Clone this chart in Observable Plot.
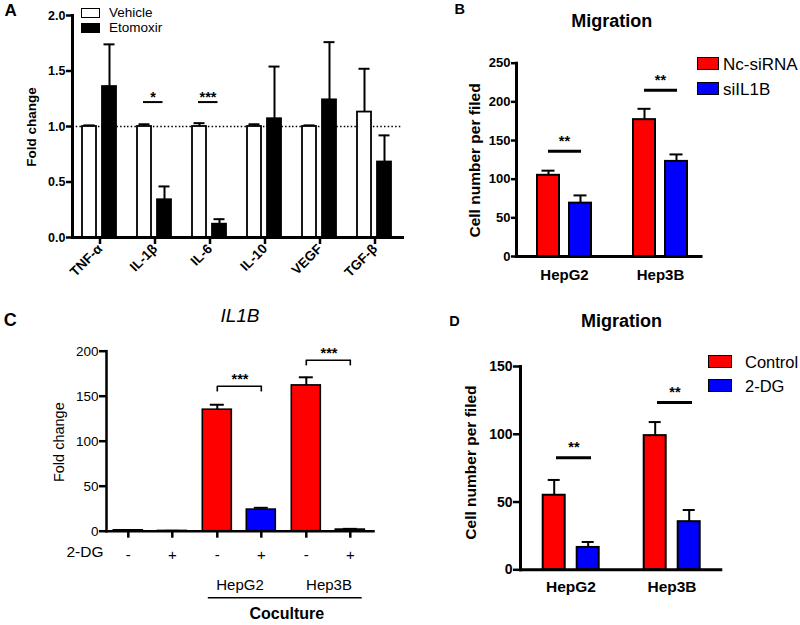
<!DOCTYPE html>
<html>
<head>
<meta charset="utf-8">
<script src="https://cdn.jsdelivr.net/npm/d3@7"></script>
<script src="https://cdn.jsdelivr.net/npm/@observablehq/plot@0.6"></script>
<style>
  body { margin: 0; background: #fff; }
  #fig { position: relative; width: 800px; height: 625px; overflow: hidden;
         font-family: "Liberation Sans", Arial, Helvetica, sans-serif; color: #000; background: #fff; }
  #fig svg { position: absolute; overflow: visible; }
</style>
</head>
<body>
<div id="fig"></div>
<script>
const FONT = '"Liberation Sans", Arial, Helvetica, sans-serif';

// ---------- Panel A: cytokine fold change ----------
const cytokines = ["TNF-α", "IL-1β", "IL-6", "IL-10", "VEGF", "TGF-β"];
const treatmentsA = ["Vehicle", "Etomoxir"];
const vehicleMean = [1.00, 1.00, 1.00, 1.00, 1.00, 1.13];
const vehicleSem  = [0.01, 0.02, 0.03, 0.02, 0.01, 0.39];
const etomoxirMean = [1.36, 0.34, 0.12, 1.07, 1.24, 0.68];
const etomoxirSem  = [0.38, 0.12, 0.045, 0.47, 0.52, 0.24];
const sigA = [{cat: "IL-1β", y: 1.22, label: "*"}, {cat: "IL-6", y: 1.22, label: "***"}];
const ticksA = [0, 0.5, 1, 1.5, 2];

// ---------- Panel B: migration, siRNA ----------
const cellLines = ["HepG2", "Hep3B"];
const groupsB = ["Nc-siRNA", "siIL1B"];
const ncMean = [105, 177];
const ncSem = [6, 14];
const siMean = [69, 123];
const siSem = [10, 9];
const sigB = [{cell: "HepG2", y: 136, label: "**"}, {cell: "Hep3B", y: 215, label: "**"}];
const ticksB = [0, 50, 100, 150, 200, 250];

// ---------- Panel C: IL1B fold change ----------
const cGroups = ["None", "HepG2", "Hep3B"];
const dgLevels = ["-", "+"];
const minusMean = [1.0, 135, 162];
const minusSem = [0.2, 5.5, 9];
const plusMean = [0.3, 24, 1.8];
const plusSem = [0.1, 2, 0.8];
const sigC = [{grp: "HepG2", y: 161, label: "***"}, {grp: "Hep3B", y: 190, label: "***"}];
const ticksC = [0, 50, 100, 150, 200];

// ---------- Panel D: migration, 2-DG ----------
const groupsD = ["Control", "2-DG"];
const ctrlMean = [55, 99];
const ctrlSem = [11.3, 10];
const dgMean = [16.5, 35.5];
const dgSem = [4, 8.6];
const sigD = [{cell: "HepG2", y: 82.6, label: "**"}, {cell: "Hep3B", y: 123.4, label: "**"}];
const ticksD = [0, 50, 100, 150];

const RED = "#ff0000", BLUE = "#0000ff";

const dataA = cytokines.flatMap((c, i) => [
  {cat: c, grp: treatmentsA[0], mean: vehicleMean[i], sem: vehicleSem[i]},
  {cat: c, grp: treatmentsA[1], mean: etomoxirMean[i], sem: etomoxirSem[i]}
]);
const dataB = cellLines.flatMap((c, i) => [
  {cell: c, grp: groupsB[0], mean: ncMean[i], sem: ncSem[i]},
  {cell: c, grp: groupsB[1], mean: siMean[i], sem: siSem[i]}
]);
const dataC = cGroups.flatMap((g, i) => [
  {grp: g, dg: dgLevels[0], mean: minusMean[i], sem: minusSem[i]},
  {grp: g, dg: dgLevels[1], mean: plusMean[i], sem: plusSem[i]}
]);
const legsC = sigC.flatMap(d => dgLevels.map(k => ({...d, dg: k})));
const dataD = cellLines.flatMap((c, i) => [
  {cell: c, grp: groupsD[0], mean: ctrlMean[i], sem: ctrlSem[i]},
  {cell: c, grp: groupsD[1], mean: dgMean[i], sem: dgSem[i]}
]);

const errTop = d => d.mean + d.sem;
const baseStyle = {fontFamily: FONT, color: "#000", background: "#fff", overflow: "visible"};

// ---------- A ----------
const plotA = Plot.plot({
  width: 420, height: 290,
  marginLeft: 70, marginRight: 17, marginTop: 15, marginBottom: 53,
  style: baseStyle,
  fx: {domain: cytokines, paddingInner: 0, paddingOuter: 0},
  x: {domain: treatmentsA, paddingInner: 0.286, paddingOuter: 0.464, axis: null},
  y: {domain: [0, 2]},
  color: {domain: treatmentsA, range: ["#ffffff", "#000000"]},
  marks: [
    Plot.ruleY([1], {strokeDasharray: "1.5,2.2", strokeWidth: 1.4}),
    Plot.ruleX(dataA, {fx: "cat", x: "grp", y1: "mean", y2: errTop, strokeWidth: 2}),
    Plot.tickY(dataA, {fx: "cat", x: "grp", y: errTop, strokeWidth: 2, inset: 1.5}),
    Plot.barY(dataA, {fx: "cat", x: "grp", y: "mean", fill: "grp", stroke: "#000", strokeWidth: 1.8}),
    Plot.ruleY(sigA, {fx: "cat", y: "y", insetLeft: 16, insetRight: 19.5, strokeWidth: 2}),
    Plot.text(sigA, {fx: "cat", y: "y", text: "label", dx: -2, dy: 0, lineAnchor: "bottom", fontSize: 14.5, fontWeight: "bold"}),
    Plot.frame({anchor: "bottom", facet: "super", strokeWidth: 3}),
    Plot.frame({anchor: "left", facet: "super", strokeWidth: 3}),
    Plot.axisY({ticks: ticksA, tickFormat: d3.format(".1f"), tickSize: 6, tickPadding: 1, strokeWidth: 2.5,
                fontSize: 12.5, fontWeight: "bold", label: null}),
    Plot.axisFx({anchor: "bottom", tickSize: 7, tickPadding: 2, tickRotate: -45, strokeWidth: 2.5,
                 fontSize: 13.5, fontWeight: "bold", label: null}),
    Plot.text(["A"], {facet: "super", frameAnchor: "top-left", dx: -68, dy: 0, textAnchor: "start", lineAnchor: "bottom",
                      fontSize: 17, fontWeight: "bold"}),
    Plot.text(["Fold change"], {facet: "super", frameAnchor: "left", textAnchor: "middle", rotate: -90, dx: -41, dy: 0.5,
                                fontSize: 13.5, fontWeight: "bold"})
  ]
});

// ---------- B ----------
const plotB = Plot.plot({
  width: 380, height: 290,
  marginLeft: 89, marginRight: 84.5, marginTop: 62.7, marginBottom: 34,
  style: baseStyle,
  fx: {domain: cellLines, paddingInner: 0, paddingOuter: 0.07},
  x: {domain: groupsB, paddingInner: 0.308, paddingOuter: 0.638, axis: null},
  y: {domain: [0, 250]},
  color: {domain: groupsB, range: [RED, BLUE]},
  marks: [
    Plot.ruleX(dataB, {fx: "cell", x: "grp", y1: "mean", y2: errTop, strokeWidth: 2}),
    Plot.tickY(dataB, {fx: "cell", x: "grp", y: errTop, strokeWidth: 2, inset: 4.5}),
    Plot.barY(dataB, {fx: "cell", x: "grp", y: "mean", fill: "grp", stroke: "#000", strokeWidth: 2}),
    Plot.ruleY(sigB, {fx: "cell", y: "y", insetLeft: 32, insetRight: 31, strokeWidth: 3}),
    Plot.text(sigB, {fx: "cell", y: "y", text: "label", dy: -5.7, lineAnchor: "bottom", fontSize: 14.5, fontWeight: "bold"}),
    Plot.frame({anchor: "bottom", facet: "super", insetRight: 7.5, strokeWidth: 3}),
    Plot.frame({anchor: "left", facet: "super", strokeWidth: 3}),
    Plot.axisY({ticks: ticksB, tickSize: 5, tickPadding: 1, strokeWidth: 2.5, fontSize: 13, fontWeight: "bold", label: null}),
    Plot.axisFx({anchor: "bottom", tickSize: 0, tickPadding: 12.5, fontSize: 15, fontWeight: "bold", label: null}),
    Plot.text(["B"], {facet: "super", frameAnchor: "top-left", dx: -62, dy: -49.4, textAnchor: "start", lineAnchor: "bottom",
                      fontSize: 14.5, fontWeight: "bold"}),
    Plot.text(["Migration"], {facet: "super", frameAnchor: "top", dx: -0.75, dy: -36, lineAnchor: "bottom",
                              fontSize: 18, fontWeight: "bold"}),
    Plot.text(["Cell number per filed"], {facet: "super", frameAnchor: "left", textAnchor: "middle", rotate: -90,
                                          dx: -41, dy: 0.6, fontSize: 15.5, fontWeight: "bold"})
  ]
});

// ---------- C ----------
const plotC = Plot.plot({
  width: 420, height: 335,
  marginLeft: 104.7, marginRight: 46.7, marginTop: 60.7, marginBottom: 94.3,
  style: baseStyle,
  fx: {domain: cGroups, paddingInner: 0, paddingOuter: 0},
  x: {domain: dgLevels, paddingInner: 0.33, paddingOuter: 0.165},
  y: {domain: [0, 200]},
  color: {domain: dgLevels, range: [RED, BLUE]},
  marks: [
    Plot.ruleX(dataC, {fx: "grp", x: "dg", y1: "mean", y2: errTop, strokeWidth: 2}),
    Plot.tickY(dataC, {fx: "grp", x: "dg", y: errTop, strokeWidth: 2, inset: 7.5}),
    Plot.barY(dataC, {fx: "grp", x: "dg", y: "mean", fill: "dg", stroke: "#000", strokeWidth: 1.6}),
    Plot.ruleY(sigC, {fx: "grp", y: "y", insetLeft: 22.4, insetRight: 22.4, strokeWidth: 1.6}),
    Plot.ruleX(legsC, {fx: "grp", x: "dg", y1: "y", y2: d => d.y - 6.3, strokeWidth: 1.6}),
    Plot.text(sigC, {fx: "grp", y: "y", text: "label", dy: -2.7, lineAnchor: "bottom", fontSize: 14.5, fontWeight: "bold"}),
    Plot.frame({anchor: "bottom", facet: "super", strokeWidth: 2.5}),
    Plot.frame({anchor: "left", facet: "super", strokeWidth: 2.5}),
    Plot.axisY({ticks: ticksC, tickSize: 7, tickPadding: 1, strokeWidth: 2.5, fontSize: 13.5, label: null}),
    Plot.axisX({anchor: "bottom", tickSize: 7, tickPadding: 11.6, strokeWidth: 2.5, fontSize: 15, label: null}),
    Plot.axisFx({anchor: "bottom", tickSize: 0, tickPadding: 48.6, tickFormat: d => d === "None" ? "" : d,
                 fontSize: 15, label: null}),
    Plot.text(["2-DG"], {facet: "super", frameAnchor: "bottom-left", dx: -3, dy: 26, textAnchor: "end", fontSize: 15.5}),
    Plot.ruleY([{grp: "HepG2"}], {fx: "grp", y: () => 0, dy: 66.6, insetLeft: 12.8, strokeWidth: 1.5}),
    Plot.ruleY([{grp: "Hep3B"}], {fx: "grp", y: () => 0, dy: 66.6, insetRight: 11.3, strokeWidth: 1.5}),
    Plot.text([{grp: "HepG2"}], {fx: "grp", frameAnchor: "bottom-right", text: () => "Coculture", textAnchor: "middle",
                                 dx: 2.3, dy: 87.6, lineAnchor: "bottom", fontSize: 16, fontWeight: "bold"}),
    Plot.text(["IL1B"], {facet: "super", frameAnchor: "top", dy: -29, lineAnchor: "bottom", fontSize: 19, fontStyle: "italic"}),
    Plot.text(["C"], {facet: "super", frameAnchor: "top-left", dx: -102.7, dy: -25.7, textAnchor: "start", lineAnchor: "bottom",
                      fontSize: 18, fontWeight: "bold"}),
    Plot.text(["Fold change"], {facet: "super", frameAnchor: "left", textAnchor: "middle", rotate: -90, dx: -46.7, dy: 1,
                                fontSize: 14.5})
  ]
});

// ---------- D ----------
const plotD = Plot.plot({
  width: 380, height: 335,
  marginLeft: 98.3, marginRight: 76.3, marginTop: 76, marginBottom: 55.7,
  style: baseStyle,
  fx: {domain: cellLines, paddingInner: 0, paddingOuter: 0.007},
  x: {domain: groupsD, paddingInner: 0.348, paddingOuter: 0.652, axis: null},
  y: {domain: [0, 150]},
  color: {domain: groupsD, range: [RED, BLUE]},
  marks: [
    Plot.ruleX(dataD, {fx: "cell", x: "grp", y1: "mean", y2: errTop, strokeWidth: 2}),
    Plot.tickY(dataD, {fx: "cell", x: "grp", y: errTop, strokeWidth: 2, inset: 5}),
    Plot.barY(dataD, {fx: "cell", x: "grp", y: "mean", fill: "grp", stroke: "#000", strokeWidth: 2}),
    Plot.ruleY(sigD, {fx: "cell", y: "y", insetLeft: 36, insetRight: 30, strokeWidth: 3}),
    Plot.text(sigD, {fx: "cell", y: "y", text: "label", dx: 3, dy: -6, lineAnchor: "bottom", fontSize: 14.5, fontWeight: "bold"}),
    Plot.frame({anchor: "bottom", facet: "super", insetRight: 1.7, strokeWidth: 3}),
    Plot.frame({anchor: "left", facet: "super", strokeWidth: 3}),
    Plot.axisY({ticks: ticksD, tickSize: 7, tickPadding: 1, strokeWidth: 2.5, fontSize: 14, fontWeight: "bold", label: null}),
    Plot.axisFx({anchor: "bottom", tickSize: 0, tickPadding: 11.4, fontSize: 15.5, fontWeight: "bold", label: null}),
    Plot.text(["D"], {facet: "super", frameAnchor: "top-left", dx: -71.3, dy: -41, textAnchor: "start", lineAnchor: "bottom",
                      fontSize: 14.5, fontWeight: "bold"}),
    Plot.text(["Migration"], {facet: "super", frameAnchor: "top", dy: -40, lineAnchor: "bottom", fontSize: 18, fontWeight: "bold"}),
    Plot.text(["Cell number per filed"], {facet: "super", frameAnchor: "left", textAnchor: "middle", rotate: -90,
                                          dx: -49.3, dy: -5.6, fontSize: 15.5, fontWeight: "bold"})
  ]
});

const fig = document.getElementById("fig");
function place(svg, left, topPx) {
  svg.style.left = left + "px";
  svg.style.top = topPx + "px";
  fig.appendChild(svg);
}
place(plotA, 0, 0);
place(plotB, 420, 0);
place(plotC, 0, 290);
place(plotD, 420, 290);

function legend(plot, labels, {left, top, step, boxW, boxH, textLeft, fontSize, border}) {
  const color = plot.scale("color");
  labels.forEach((label, i) => {
    const y = top + i * step;
    const box = document.createElement("div");
    Object.assign(box.style, {
      position: "absolute", left: left + "px", top: y + "px", width: boxW + "px", height: boxH + "px",
      background: color.apply(label), border: border + "px solid #000", boxSizing: "border-box"
    });
    const lab = document.createElement("div");
    Object.assign(lab.style, {
      position: "absolute", left: textLeft + "px", top: (y + boxH / 2) + "px", transform: "translateY(-50%)",
      fontSize: fontSize + "px", lineHeight: "1", whiteSpace: "nowrap"
    });
    lab.textContent = label;
    fig.appendChild(box);
    fig.appendChild(lab);
  });
}
legend(plotA, treatmentsA, {left: 81, top: 8, step: 15, boxW: 19, boxH: 10, textLeft: 109, fontSize: 13.5, border: 1.5});
legend(plotB, groupsB, {left: 697, top: 57, step: 25, boxW: 21.5, boxH: 13, textLeft: 723, fontSize: 17, border: 1.5});
legend(plotD, groupsD, {left: 708, top: 355, step: 24, boxW: 24, boxH: 13, textLeft: 745, fontSize: 16.5, border: 1.5});
</script>
</body>
</html>
